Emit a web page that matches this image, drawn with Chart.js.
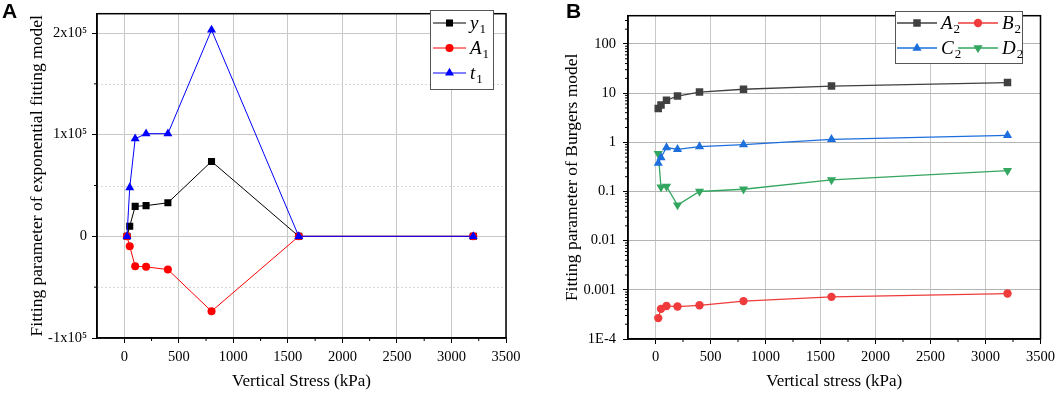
<!DOCTYPE html>
<html>
<head>
<meta charset="utf-8">
<script src="https://cdn.jsdelivr.net/npm/chart.js@4/dist/chart.umd.min.js"></script>
<style>
  body { margin: 0; background: #fff; }
  #wrap { position: relative; width: 1059px; height: 394px; }
  canvas { position: absolute; top: 0; }
  .tag { position: absolute; top: 0; font: bold 21px 'Liberation Sans', Arial, sans-serif; line-height: 21px; }
</style>
</head>
<body>
<div id="wrap">
  <canvas id="chartA" width="530" height="394" style="left:0"></canvas>
  <canvas id="chartB" width="529" height="394" style="left:530px"></canvas>
  <div class="tag" style="left:2px">A</div>
  <div class="tag" style="left:566px">B</div>
</div>
<script>
// vertical stress (kPa), shared by both panels
const stress = [25, 50, 100, 200, 400, 800, 1600, 3200];
const xTicks = [0, 500, 1000, 1500, 2000, 2500, 3000, 3500];
const xMinor = [250, 750, 1250, 1750, 2250, 2750, 3250];

// panel A - exponential fitting model
const y1Vals = [0, 10000, 29500, 30200, 33000, 73700, 0, 0];
const a1Vals = [0, -9800, -29500, -30000, -32700, -73700, 0, 0];
const t1Vals = [0, 48000, 96000, 101000, 101000, 203000, 0, 0];
const yTicksA = [-100000, 0, 100000, 200000];
const yLabelsA = ['-1x10\u2075', '0', '1x10\u2075', '2x10\u2075'];
const yMinorA = [-50000, 50000, 150000];

// panel B - Burgers model
const a2Vals = [4.86, 5.73, 7.18, 8.73, 10.5, 12.0, 13.9, 16.4];
const b2Vals = [0.000266, 0.00041, 0.00047, 0.000457, 0.000485, 0.00059, 0.00072, 0.00084];
const c2Vals = [0.376, 0.49, 0.785, 0.72, 0.82, 0.90, 1.15, 1.39];
const d2Vals = [0.59, 0.122, 0.127, 0.053, 0.1, 0.111, 0.172, 0.266];
const yTicksB = [0.0001, 0.001, 0.01, 0.1, 1, 10, 100];
const yLabelsB = ['1E-4', '0.001', '0.01', '0.1', '1', '10', '100'];

const serif = 'Liberation Serif';

function pts(vals) {
  return stress.map((x, i) => ({ x: x, y: vals[i] }));
}

// box around the plot, minor ticks and faint dotted grid
const frame = {
  id: 'frame',
  beforeDatasetsDraw(chart, args, opts) {
    const { ctx, chartArea: a, scales } = chart;
    ctx.save();
    ctx.strokeStyle = '#d8d8d8';
    ctx.lineWidth = 1;
    ctx.setLineDash([2, 2]);
    (opts.yDotted || []).forEach(v => {
      const py = Math.round(scales.y.getPixelForValue(v)) + 0.5;
      ctx.beginPath(); ctx.moveTo(a.left, py); ctx.lineTo(a.right, py); ctx.stroke();
    });
    ctx.setLineDash([]);
    ctx.strokeStyle = '#000';
    ctx.lineWidth = 1;
    (opts.xMinor || []).forEach(v => {
      const px = scales.x.getPixelForValue(v);
      ctx.beginPath(); ctx.moveTo(px, a.bottom); ctx.lineTo(px, a.bottom + 3); ctx.stroke();
    });
    (opts.yMinor || []).forEach(v => {
      const py = scales.y.getPixelForValue(v);
      ctx.beginPath(); ctx.moveTo(a.left - 3, py); ctx.lineTo(a.left, py); ctx.stroke();
    });
    ctx.lineWidth = 1.5;
    ctx.strokeRect(a.left, a.top, a.right - a.left, a.bottom - a.top);
    ctx.restore();
  }
};

// legend in a framed box, labels with subscripts
const boxLegend = {
  id: 'boxLegend',
  afterDraw(chart, args, o) {
    const ctx = chart.ctx;
    ctx.save();
    ctx.fillStyle = '#fff';
    ctx.fillRect(o.x, o.y, o.w, o.h);
    ctx.strokeStyle = '#555';
    ctx.lineWidth = 1;
    ctx.strokeRect(o.x + 0.5, o.y + 0.5, o.w, o.h);
    chart.data.datasets.forEach((ds, i) => {
      const col = i % o.cols, row = Math.floor(i / o.cols);
      const x0 = o.x + o.padX + col * o.colW;
      const y0 = o.y + o.padY + row * o.rowH;
      ctx.strokeStyle = ds.borderColor;
      ctx.lineWidth = ds.borderWidth;
      ctx.beginPath(); ctx.moveTo(x0, y0); ctx.lineTo(x0 + o.lineLen, y0); ctx.stroke();
      ctx.fillStyle = ds.pointBackgroundColor;
      Chart.helpers.drawPoint(ctx, {
        pointStyle: ds.pointStyle, rotation: ds.pointRotation || 0,
        radius: ds.pointRadius, borderWidth: 0
      }, x0 + o.lineLen / 2, y0);
      const parts = ds.label.split('_');
      const tx = x0 + o.lineLen + 4;
      ctx.fillStyle = '#000';
      ctx.textBaseline = 'alphabetic';
      ctx.textAlign = 'left';
      ctx.font = 'italic 19px "' + serif + '"';
      ctx.fillText(parts[0], tx, y0 + 6);
      const bw = ctx.measureText(parts[0]).width;
      ctx.font = '13px "' + serif + '"';
      ctx.fillText(parts[1], tx + bw + 1, y0 + 10);
    });
    ctx.restore();
  }
};

function xAxis(title, h, pad) {
  return {
    type: 'linear', min: -250, max: 3500,
    afterBuildTicks: s => { s.ticks = xTicks.map(v => ({ value: v })); },
    afterFit: s => { s.height = h; },
    ticks: {
      autoSkip: false, maxRotation: 0, padding: pad, color: '#000', font: { family: serif, size: 14.5 },
      callback: v => String(v)
    },
    grid: { color: '#c8c8c8', tickColor: '#000', tickLength: 5, lineWidth: 1 },
    border: { color: '#000', width: 1.5 },
    title: { display: true, text: title, color: '#000', font: { family: serif, size: 17 }, padding: { top: 0, bottom: 2 } }
  };
}

function ds(label, vals, color, style, extra) {
  return Object.assign({
    label: label, data: pts(vals), borderColor: color, backgroundColor: color,
    pointBackgroundColor: color, pointBorderWidth: 0, pointStyle: style,
    pointRadius: 4.5, borderWidth: 1, tension: 0
  }, extra || {});
}

new Chart(document.getElementById('chartA'), {
  type: 'line',
  data: {
    datasets: [
      ds('y_1', y1Vals, '#000000', 'rect', { pointRadius: 5, order: 2 }),
      ds('A_1', a1Vals, '#ff0000', 'circle', { pointRadius: 4, order: 1 }),
      ds('t_1', t1Vals, '#0000ff', 'triangle', { pointRadius: 5.2, order: 0 })
    ]
  },
  options: {
    responsive: false,
    animation: false,
    layout: { padding: { left: 0, right: 24, top: 3, bottom: 0 } },
    scales: {
      x: xAxis('Vertical Stress (kPa)', 56, 5),
      y: {
        min: -100000, max: 219000,
        afterBuildTicks: s => { s.ticks = yTicksA.map(v => ({ value: v })); },
        afterFit: s => { s.width = 97; },
        ticks: {
          padding: 5, color: '#000', font: { family: serif, size: 14.5 },
          callback: v => yLabelsA[yTicksA.indexOf(v)]
        },
        grid: { color: '#c8c8c8', tickColor: '#000', tickLength: 5 },
        border: { color: '#000', width: 1.5 },
        title: { display: true, text: 'Fitting parameter of exponential fitting model', color: '#000', font: { family: serif, size: 17.5 }, padding: { top: 27, bottom: 0 } }
      }
    },
    plugins: {
      legend: { display: false },
      tooltip: { enabled: false },
      frame: { xMinor: xMinor, yMinor: yMinorA, yDotted: yMinorA },
      boxLegend: { x: 430, y: 10, w: 63, h: 79, cols: 1, colW: 0, rowH: 25, padX: 3, padY: 13, lineLen: 33 }
    }
  },
  plugins: [frame, boxLegend]
});

const yMinorB = [];
yTicksB.forEach(d => {
  for (let m = 2; m <= 9; m++) if (d * m <= 376) yMinorB.push(d * m);
});

new Chart(document.getElementById('chartB'), {
  type: 'line',
  data: {
    datasets: [
      ds('A_2', a2Vals, '#404040', 'rect', { pointRadius: 5.3, borderWidth: 1.3, order: 3 }),
      ds('B_2', b2Vals, '#ef3b3b', 'circle', { pointRadius: 4.2, borderWidth: 1.3, order: 2 }),
      ds('C_2', c2Vals, '#1c6fdc', 'triangle', { pointRadius: 5.3, borderWidth: 1.3, order: 0 }),
      ds('D_2', d2Vals, '#33a65f', 'triangle', { pointRadius: 5.3, pointRotation: 180, borderWidth: 1.3, order: 1 })
    ]
  },
  options: {
    responsive: false,
    animation: false,
    layout: { padding: { left: 0, right: 16, top: 3, bottom: 0 } },
    scales: {
      x: xAxis('Vertical stress (kPa)', 55, 4),
      y: {
        type: 'logarithmic', min: 0.0001, max: 376,
        afterBuildTicks: s => { s.ticks = yTicksB.map(v => ({ value: v })); },
        afterFit: s => { s.width = 98; },
        ticks: {
          autoSkip: false, padding: 7, color: '#000', font: { family: serif, size: 14.5 },
          callback: v => yLabelsB[yTicksB.indexOf(v)]
        },
        grid: { color: '#b4b4b4', tickColor: '#000', tickLength: 5 },
        border: { color: '#000', width: 1.5 },
        title: { display: true, text: 'Fitting parameter of Burgers model', color: '#000', font: { family: serif, size: 17.5 }, padding: { top: 32, bottom: 0 } }
      }
    },
    plugins: {
      legend: { display: false },
      tooltip: { enabled: false },
      frame: { xMinor: xMinor, yMinor: yMinorB },
      boxLegend: { x: 365, y: 11, w: 127, h: 52, cols: 2, colW: 61, rowH: 25, padX: 2, padY: 12, lineLen: 40 }
    }
  },
  plugins: [frame, boxLegend]
});
</script>
</body>
</html>
